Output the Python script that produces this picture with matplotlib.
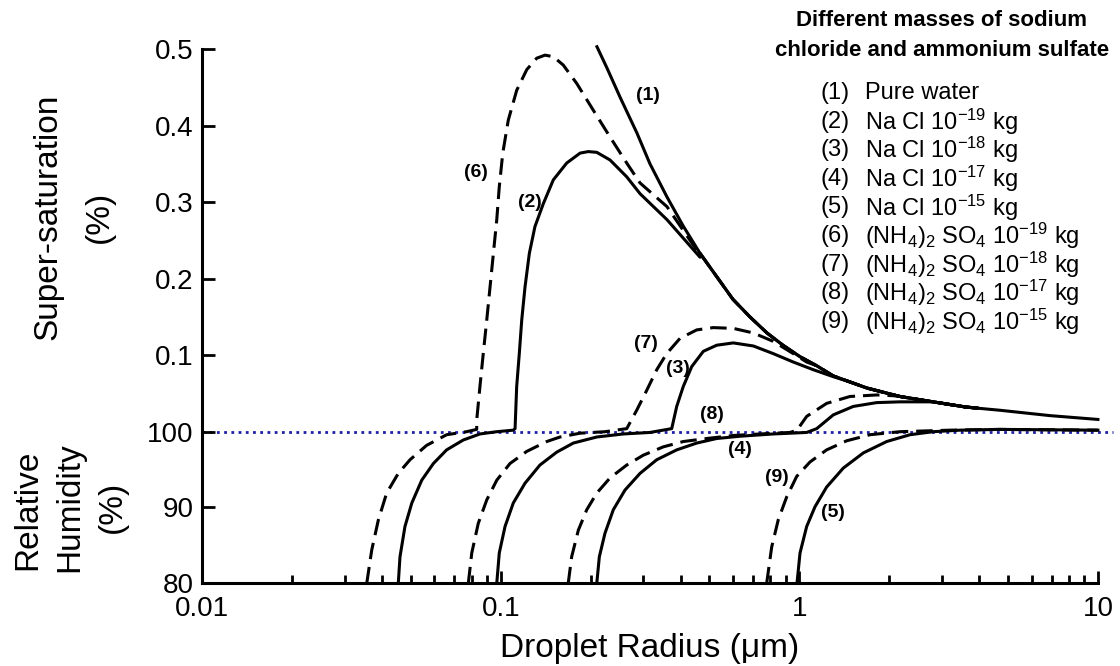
import matplotlib.pyplot as plt
import numpy as np
from matplotlib.ticker import FixedLocator, FixedFormatter, LogLocator, NullFormatter

plt.rcParams['font.family'] = 'Liberation Sans'
plt.rcParams['mathtext.fontset'] = 'custom'
plt.rcParams['mathtext.rm'] = 'Liberation Sans'
plt.rcParams['mathtext.it'] = 'Liberation Sans:italic'
plt.rcParams['mathtext.bf'] = 'Liberation Sans:bold'

# Pure water curve, supersaturation (%) against radius (um)
pure_r = [0.210, 0.227, 0.251, 0.286, 0.316, 0.360, 0.408, 0.465, 0.530, 0.599, 0.683, 0.779,
          0.881, 1.005, 1.145, 1.296, 1.477, 1.684, 2.172, 2.801, 3.640, 4.695, 6.902, 9.99]
pure_s = [0.503, 0.475, 0.437, 0.390, 0.350, 0.307, 0.269, 0.233, 0.202, 0.173, 0.150, 0.129,
          0.113, 0.098, 0.086, 0.073, 0.065, 0.057, 0.046, 0.039, 0.032, 0.028, 0.021, 0.016]
# where the solution curves stop after joining the pure water curve
end_r, end_s = 3.93, 0.031

# lower branches: relative humidity (%), upper branches: supersaturation (%)
nacl19_lo_r = [0.0454, 0.0460, 0.0478, 0.0504, 0.0544, 0.0595, 0.0659, 0.0749, 0.0852, 0.0970]
nacl19_lo_rh = [80.0, 83.5, 87.5, 90.6, 93.6, 95.8, 97.6, 98.9, 99.7, 100.0]
nacl19_up_r = [0.1102, 0.1117, 0.1131, 0.1154, 0.1176, 0.1206, 0.1247, 0.1302, 0.1389, 0.1500,
               0.1663, 0.1844, 0.1965, 0.2097, 0.2323, 0.2642, 0.2927, 0.3604, 0.4648]
nacl19_up_s = [0.002, 0.004, 0.059, 0.102, 0.146, 0.189, 0.233, 0.268, 0.298, 0.329,
               0.351, 0.364, 0.366, 0.365, 0.355, 0.333, 0.311, 0.277, 0.228]

nacl18_lo_r = [0.0970, 0.0989, 0.1034, 0.1102, 0.1206, 0.1353, 0.1540, 0.1750, 0.2097, 0.2573, 0.3161]
nacl18_lo_rh = [80.0, 84.0, 87.5, 90.6, 93.2, 95.6, 97.3, 98.5, 99.3, 99.7, 99.9]
nacl18_up_r = [0.3737, 0.3884, 0.4085, 0.4360, 0.4768, 0.5287, 0.6008, 0.7012, 0.8177, 0.9542, 1.113, 1.296]
nacl18_up_s = [0.004, 0.033, 0.059, 0.085, 0.105, 0.113, 0.116, 0.112, 0.102, 0.091, 0.081, 0.072]

nacl17_lo_r = [0.2097, 0.2139, 0.2234, 0.2382, 0.2607, 0.2927, 0.3330, 0.3884, 0.4532, 0.5287,
               0.6325, 0.8177, 1.058]
nacl17_lo_rh = [80.0, 83.5, 86.6, 89.7, 92.3, 94.5, 96.3, 97.6, 98.5, 99.1, 99.4, 99.7, 99.9]
nacl17_up_r = [1.143, 1.299, 1.515, 1.815, 2.172, 2.801]
nacl17_up_s = [0.004, 0.022, 0.033, 0.038, 0.039, 0.039]

nacl15_lo_r = [0.9817, 1.005, 1.058, 1.128, 1.234, 1.403, 1.637, 1.960, 2.346, 2.807]
nacl15_lo_rh = [80.0, 84.0, 87.5, 90.1, 92.7, 95.2, 97.2, 98.7, 99.6, 100.0]
nacl15_up_r = [3.449, 4.695, 9.99]
nacl15_up_s = [0.002, 0.003, 0.002]

as19_lo_r = [0.0356, 0.0370, 0.0389, 0.0415, 0.0454, 0.0497, 0.0565, 0.0659, 0.0769]
as19_lo_rh = [80.0, 84.4, 88.3, 91.9, 94.5, 96.3, 98.2, 99.6, 100.0]
as19_up_r = [0.0831, 0.0831, 0.0852, 0.0874, 0.0898, 0.0921, 0.0945, 0.0970, 0.0989, 0.1016,
             0.1060, 0.1131, 0.1222, 0.1320, 0.1407, 0.1500, 0.1620, 0.1797, 0.2042, 0.2323,
             0.2642, 0.2927, 0.3604, 0.4648]
as19_up_s = [0.003, 0.015, 0.059, 0.102, 0.146, 0.189, 0.233, 0.277, 0.320, 0.364,
             0.407, 0.446, 0.473, 0.488, 0.492, 0.490, 0.479, 0.455, 0.420, 0.385,
             0.351, 0.325, 0.294, 0.231]

as18_lo_r = [0.0779, 0.0800, 0.0841, 0.0898, 0.0970, 0.1074, 0.1222, 0.1426, 0.1580, 0.1844, 0.2234]
as18_lo_rh = [80.0, 84.0, 87.9, 91.0, 93.6, 95.8, 97.4, 98.7, 99.3, 99.8, 100.0]
as18_up_r = [0.2642, 0.2853, 0.3082, 0.3330, 0.3595, 0.3985, 0.4532, 0.5151, 0.6008, 0.7012,
             0.8177, 0.9542, 1.058]
as18_up_s = [0.004, 0.028, 0.054, 0.081, 0.102, 0.122, 0.133, 0.136, 0.135, 0.129,
             0.118, 0.102, 0.091]

as17_lo_r = [0.1683, 0.1728, 0.1819, 0.1941, 0.2097, 0.2323, 0.2642, 0.3002, 0.3502, 0.4085,
             0.4894, 0.6008, 0.7381, 0.9301]
as17_lo_rh = [80.0, 83.5, 87.0, 89.7, 91.9, 93.9, 95.6, 96.9, 98.0, 98.7, 99.1, 99.5, 99.7, 99.9]
as17_up_r = [0.9817, 1.058, 1.234, 1.477, 1.815, 2.063]
as17_up_s = [0.002, 0.020, 0.037, 0.046, 0.048, 0.047]

as15_lo_r = [0.7772, 0.8078, 0.8500, 0.9069, 0.9795, 1.085, 1.234, 1.440, 1.723, 2.172]
as15_lo_rh = [80.0, 84.8, 88.4, 91.4, 94.1, 96.0, 97.6, 98.8, 99.6, 100.0]
as15_up_r = [3.19, 4.695, 9.99]
as15_up_s = [0.002, 0.003, 0.002]

legend_lines = [
    'Pure water',
    'Na Cl 10$^{-19}$ kg',
    'Na Cl 10$^{-18}$ kg',
    'Na Cl 10$^{-17}$ kg',
    'Na Cl 10$^{-15}$ kg',
    '(NH$_4$)$_2$ SO$_4$ 10$^{-19}$ kg',
    '(NH$_4$)$_2$ SO$_4$ 10$^{-18}$ kg',
    '(NH$_4$)$_2$ SO$_4$ 10$^{-17}$ kg',
    '(NH$_4$)$_2$ SO$_4$ 10$^{-15}$ kg',
]


def build(lo_r, lo_rh, up_r, up_s, joins=True):
    # one continuous path: humidity part below 100 %, supersaturation part above
    r = list(lo_r) + list(up_r)
    y = [v - 100 for v in lo_rh] + list(up_s)
    if joins:
        for pr, ps in zip(pure_r, pure_s):
            if up_r[-1] < pr < end_r:
                r.append(pr)
                y.append(ps)
        r.append(end_r)
        y.append(end_s)
    return r, y


# y < 0 : relative humidity - 100, y >= 0 : supersaturation, each part with its own scale
def fwd(y):
    y = np.asarray(y, dtype=float)
    return np.where(y < 0, y * 7.58, y * 765.4)


def inv(v):
    v = np.asarray(v, dtype=float)
    return np.where(v < 0, v / 7.58, v / 765.4)


fig = plt.figure(figsize=(11.2, 6.66), dpi=100)
ax = fig.add_axes([0.1804, 0.1242, 0.8, 0.8022])
ax.set_xscale('log')
ax.set_yscale('function', functions=(fwd, inv))
ax.set_xlim(0.01, 10)
ax.set_ylim(-20, 0.5)

# 100 % humidity line
ax.plot([0.01, 11.2], [0, 0], color='#1f1fa6', lw=2.0, ls=(0, (1, 1.6)), clip_on=False, zorder=1)

dash = (0, (5.4, 2.6))
curves = [
    ((pure_r, pure_s), '-'),
    (build(nacl19_lo_r, nacl19_lo_rh, nacl19_up_r, nacl19_up_s), '-'),
    (build(nacl18_lo_r, nacl18_lo_rh, nacl18_up_r, nacl18_up_s), '-'),
    (build(nacl17_lo_r, nacl17_lo_rh, nacl17_up_r, nacl17_up_s), '-'),
    (build(nacl15_lo_r, nacl15_lo_rh, nacl15_up_r, nacl15_up_s, joins=False), '-'),
    (build(as19_lo_r, as19_lo_rh, as19_up_r, as19_up_s), dash),
    (build(as18_lo_r, as18_lo_rh, as18_up_r, as18_up_s), dash),
    (build(as17_lo_r, as17_lo_rh, as17_up_r, as17_up_s), dash),
    (build(as15_lo_r, as15_lo_rh, as15_up_r, as15_up_s, joins=False), dash),
]
for (r, y), ls in curves:
    ax.plot(r, y, color='black', lw=2.2, ls=ls, clip_on=False, zorder=3,
            solid_joinstyle='round', dash_joinstyle='round')

# curve numbers
tags = [('(1)', 0.311, 0.439), ('(2)', 0.1253, 0.299), ('(3)', 0.392, 0.083),
        ('(4)', 0.6325, 97.6 - 100), ('(5)', 1.296, 89.4 - 100), ('(6)', 0.0827, 0.339),
        ('(7)', 0.3065, 0.115), ('(8)', 0.5098, 0.023), ('(9)', 0.8414, 93.9 - 100)]
for t, x, y in tags:
    ax.text(x, y, t, fontsize=14, fontweight='bold', ha='center', va='center', zorder=4)

ax.yaxis.set_major_locator(FixedLocator([-20, -10, 0, 0.1, 0.2, 0.3, 0.4, 0.5]))
ax.yaxis.set_major_formatter(FixedFormatter(['80', '90', '100', '0.1', '0.2', '0.3', '0.4', '0.5']))
ax.yaxis.set_minor_locator(FixedLocator([]))
ax.xaxis.set_major_locator(FixedLocator([0.01, 0.1, 1, 10]))
ax.xaxis.set_major_formatter(FixedFormatter(['0.01', '0.1', '1', '10']))
ax.xaxis.set_minor_locator(LogLocator(base=10, subs=np.arange(2, 10)))
ax.xaxis.set_minor_formatter(NullFormatter())

ax.tick_params(axis='both', which='major', direction='in', labelsize=20, width=2, length=9, color='black')
ax.tick_params(axis='x', which='minor', direction='in', width=2, length=6)
ax.tick_params(axis='x', which='major', pad=9)
ax.tick_params(axis='y', which='major', pad=6)
for side in ['top', 'right']:
    ax.spines[side].set_visible(False)
for side in ['left', 'bottom']:
    ax.spines[side].set_linewidth(2.2)

ax.set_xlabel('Droplet Radius (μm)', fontsize=24, labelpad=8)

fig.text(48 / 1120, 1 - 217 / 666, 'Super-saturation', rotation=90, fontsize=24, ha='center', va='center')
fig.text(99 / 1120, 1 - 217 / 666, '(%)', rotation=90, fontsize=24, ha='center', va='center')
fig.text(28 / 1120, 1 - 510 / 666, 'Relative', rotation=90, fontsize=24, ha='center', va='center')
fig.text(70 / 1120, 1 - 507 / 666, 'Humidity', rotation=90, fontsize=24, ha='center', va='center')
fig.text(112 / 1120, 1 - 507 / 666, '(%)', rotation=90, fontsize=24, ha='center', va='center')

fig.text(942 / 1120, 1 - 20 / 666, 'Different masses of sodium', fontsize=16, fontweight='bold',
         ha='center', va='center')
fig.text(942 / 1120, 1 - 50 / 666, 'chloride and ammonium sulfate', fontsize=16, fontweight='bold',
         ha='center', va='center')
for i, line in enumerate(legend_lines):
    yy = 1 - (93 + i * 28.6) / 666
    fig.text(820 / 1120, yy, f'({i + 1})', fontsize=17, ha='left', va='center')
    fig.text(865 / 1120, yy, line, fontsize=17, ha='left', va='center')

fig.savefig('out.png', dpi=100)
